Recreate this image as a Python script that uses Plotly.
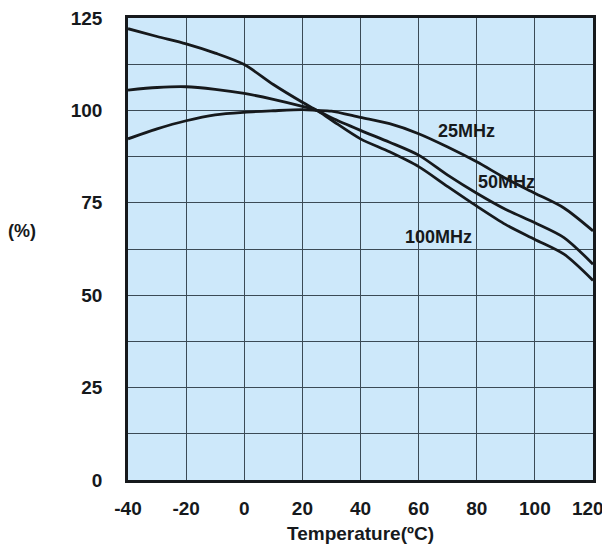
import plotly.graph_objects as go

BACKGROUND = "#cde8fa"
GRID = "#3b4a55"
INK = "#16191c"
FONT = "Liberation Sans, Arial, sans-serif"

temps = [-40, -30, -20, -10, 0, 10, 20, 25, 30, 40, 50, 60, 70, 80, 90, 100, 110, 120]
mhz_25 = [92.3, 95.0, 97.2, 98.8, 99.5, 99.9, 100.2, 100.0, 99.8, 98.1, 96.4, 93.7, 90.1, 86.1, 81.6, 77.6, 73.6, 67.4]
mhz_50 = [105.5, 106.2, 106.4, 105.7, 104.6, 103.0, 101.1, 100.0, 98.0, 94.6, 91.4, 87.9, 82.5, 77.6, 73.2, 69.6, 65.6, 58.4]
mhz_100 = [122.1, 120.0, 118.0, 115.5, 112.4, 107.0, 102.2, 100.0, 97.4, 92.3, 88.8, 84.8, 79.4, 74.1, 69.1, 65.1, 61.1, 54.0]

labels = ["25MHz", "50MHz", "100MHz"]
label_x = [76.5, 90.3, 66.8]
label_y = [94.5, 80.6, 65.8]

x_ticks = [-40, -20, 0, 20, 40, 60, 80, 100, 120]
y_ticks = [0, 25, 50, 75, 100, 125]

fig = go.Figure()
for series in (mhz_25, mhz_50, mhz_100):
    fig.add_trace(
        go.Scatter(
            x=temps,
            y=series,
            mode="lines",
            line={"color": INK, "width": 2.8, "shape": "spline", "smoothing": 0.8},
            showlegend=False,
            hoverinfo="skip",
        )
    )

for text, x, y in zip(labels, label_x, label_y):
    fig.add_annotation(
        x=x, y=y, text=f"<b>{text}</b>", showarrow=False,
        font={"size": 18, "color": INK, "family": FONT},
    )

fig.add_annotation(
    xref="paper", yref="paper", x=-0.228, y=0.54, xanchor="center", yanchor="middle",
    text="<b>(%)</b>", showarrow=False, font={"size": 18, "color": INK, "family": FONT},
)

# the last label hugs the right edge in the original, so pad it to pull it left
x_text = [f"<b>{v}</b>" for v in x_ticks]
x_text[-1] = "<b>120</b>&nbsp;&nbsp;"

# the page body adds an 8px offset, so margins are shifted by that much
fig.update_layout(
    width=610,
    height=552,
    margin={"l": 120, "r": 25, "t": 10, "b": 80},
    paper_bgcolor="white",
    plot_bgcolor=BACKGROUND,
    font={"family": FONT, "size": 19, "color": INK},
)
fig.update_xaxes(
    range=[-40, 120],
    tickvals=x_ticks,
    ticktext=x_text,
    automargin=False,
    ticklabeloverflow="allow",
    showgrid=True,
    gridcolor=GRID,
    gridwidth=1,
    showline=True,
    linecolor=INK,
    linewidth=2.5,
    mirror=True,
    zeroline=False,
    ticks="",
    ticklabelstandoff=9,
    title={"text": "<b>Temperature(ºC)</b>", "font": {"size": 19}, "standoff": 10},
)
fig.update_yaxes(
    range=[0, 125],
    tickvals=y_ticks,
    ticktext=[f"<b>{v}</b>" for v in y_ticks],
    automargin=False,
    ticklabeloverflow="allow",
    showgrid=True,
    gridcolor=GRID,
    gridwidth=1,
    minor={"dtick": 12.5, "tick0": 0, "showgrid": True, "gridcolor": GRID, "gridwidth": 1},
    showline=True,
    linecolor=INK,
    linewidth=2.5,
    mirror=True,
    zeroline=False,
    ticks="",
    ticklabelstandoff=19,
)

fig.write_html("out.html")
